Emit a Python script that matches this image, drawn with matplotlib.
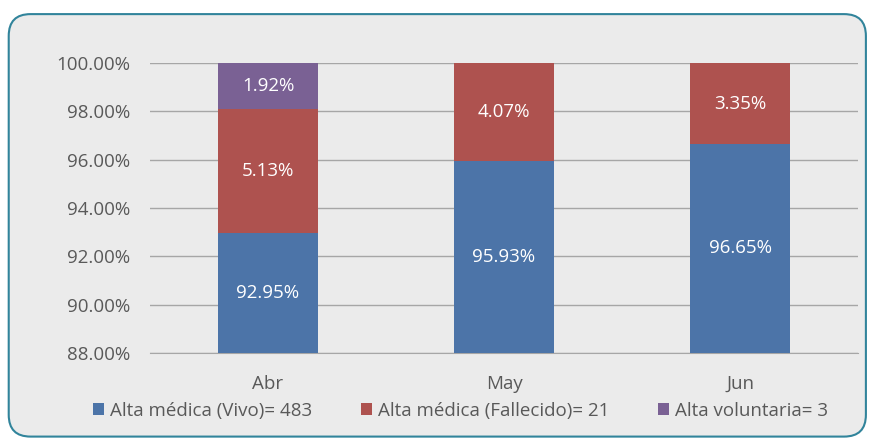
import matplotlib.pyplot as plt
from matplotlib.patches import FancyBboxPatch
import numpy as np

months = ['Abr', 'May', 'Jun']
vivo = [92.95, 95.93, 96.65]
fallecido = [5.13, 4.07, 3.35]
voluntaria = [1.92, 0.0, 0.0]
series_names = ['Alta médica (Vivo)= 483', 'Alta médica (Fallecido)= 21', 'Alta voluntaria= 3']
yticks = [88, 90, 92, 94, 96, 98, 100]

colors = ['#4C74A8', '#AE524F', '#7A6194']
ymin, ymax = 88, 100
fs = 13.5

plt.rcParams['font.family'] = ['Open Sans', 'DejaVu Sans']

fig = plt.figure(figsize=(8.72, 4.41), dpi=100)
fig.patch.set_facecolor('white')
frame = FancyBboxPatch((0.010, 0.010), 0.983, 0.958, boxstyle='round,pad=0,rounding_size=0.025',
                       transform=fig.transFigure, facecolor='#EBEBEB', edgecolor='#31849B',
                       linewidth=1.5, mutation_aspect=872 / 441, zorder=-10)
fig.patches.append(frame)

ax = fig.add_axes([0.172, 0.2, 0.812, 0.657])
ax.set_facecolor('none')

x = np.arange(len(months))
w = 0.424
bottom = np.zeros(len(months))
for vals, col, name in zip([vivo, fallecido, voluntaria], colors, series_names):
    vals = np.array(vals)
    ax.bar(x, vals, w, bottom=bottom, color=col, label=name, zorder=3)
    for xi, b, v in zip(x, bottom, vals):
        if v > 0:
            lo = max(b, ymin)
            hi = min(b + v, ymax)
            ax.text(xi, (lo + hi) / 2, f'{v:.2f}%', ha='center', va='center',
                    color='white', fontsize=fs, zorder=4)
    bottom = bottom + vals

ax.set_ylim(ymin, ymax)
ax.set_xlim(-0.5, 2.5)
ax.set_yticks(yticks)
ax.set_yticklabels([f'{t:.2f}%' for t in yticks])
ax.set_xticks(x)
ax.set_xticklabels(months)
ax.yaxis.grid(True, color='#A6A6A6', linewidth=1, zorder=0)
for s in ['top', 'right', 'left']:
    ax.spines[s].set_visible(False)
ax.spines['bottom'].set_color('#A6A6A6')
ax.tick_params(axis='both', length=0, labelsize=fs, colors='#595959')
ax.tick_params(axis='y', pad=14)
ax.tick_params(axis='x', pad=16)

fig.legend(loc='center', bbox_to_anchor=(0.528, 0.068), ncol=3, frameon=False,
           fontsize=fs, handlelength=0.6, handleheight=0.6, handletextpad=0.3,
           columnspacing=2.6, labelcolor='#595959')

fig.savefig('out.png', dpi=100, facecolor='white')
